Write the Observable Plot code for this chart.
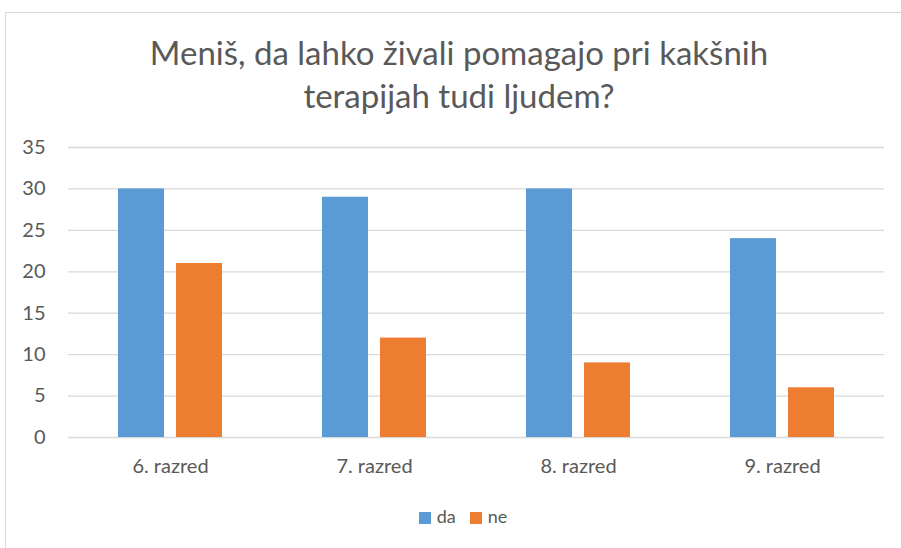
<!DOCTYPE html>
<html><head><meta charset="utf-8">
<script src="https://cdn.jsdelivr.net/npm/d3@7"></script>
<script src="https://cdn.jsdelivr.net/npm/@observablehq/plot@0.6"></script>
<style>
body{margin:0;background:#fff;width:901px;height:548px;overflow:hidden;position:relative;font-family:Lato,"Open Sans",sans-serif;color:#595959}
#frame{position:absolute;left:5px;top:12px;width:930px;height:580px;border:1px solid #d9d9d9;}
#title{position:absolute;left:0;top:31px;width:918px;text-align:center;font-size:33px;line-height:43px;color:#595959}
#chart{position:absolute;left:0;top:0}
#legend{position:absolute;left:0;top:505px;width:926px;text-align:center;font-size:18px;color:#595959}
#legend span.item{display:inline-block;margin:0 7px}
#legend span.sw{display:inline-block;width:12px;height:12px;margin-right:6px;vertical-align:-1px}
</style>
</head><body>
<div id="frame"></div>
<div id="title">Meniš, da lahko živali pomagajo pri kakšnih<br>terapijah tudi ljudem?</div>
<div id="chart"></div>
<div id="legend"></div>
<script>
const categories = ["6. razred", "7. razred", "8. razred", "9. razred"];
const series = ["da", "ne"];
const da = [30, 29, 30, 24];
const ne = [21, 12, 9, 6];
const yTicks = [0, 5, 10, 15, 20, 25, 30, 35];
const colors = ["#5B9BD5", "#ED7D31"];

const rows = [];
categories.forEach((c, i) => {
  rows.push({category: c, series: "da", value: da[i]});
  rows.push({category: c, series: "ne", value: ne[i]});
});

const chart = Plot.plot({
  width: 901,
  height: 500,
  marginLeft: 68,
  marginRight: 17,
  marginTop: 147,
  marginBottom: 63,
  style: {fontSize: "20px", fontFamily: "Lato, 'Open Sans', sans-serif", color: "#595959", background: "transparent"},
  x: {domain: categories, padding: 0, label: null},
  y: {domain: [0, 35], label: null},
  color: {domain: series, range: colors},
  marks: [
    Plot.ruleY(yTicks, {stroke: "#d9d9d9", strokeWidth: 1.3}),
    Plot.barY(rows.filter(d => d.series === "da"), {x: "category", y: "value", fill: "series", insetLeft: 50, insetRight: 108}),
    Plot.barY(rows.filter(d => d.series === "ne"), {x: "category", y: "value", fill: "series", insetLeft: 108, insetRight: 50}),
    Plot.axisY({ticks: yTicks, tickSize: 0, tickPadding: 23, label: null}),
    Plot.axisX({tickSize: 0, tickPadding: 21, label: null})
  ]
});
document.getElementById("chart").appendChild(chart);

const legend = document.getElementById("legend");
series.forEach((s, i) => {
  const item = document.createElement("span");
  item.className = "item";
  const sw = document.createElement("span");
  sw.className = "sw";
  sw.style.background = colors[i];
  item.appendChild(sw);
  item.appendChild(document.createTextNode(s));
  legend.appendChild(item);
});
</script>
</body></html>
